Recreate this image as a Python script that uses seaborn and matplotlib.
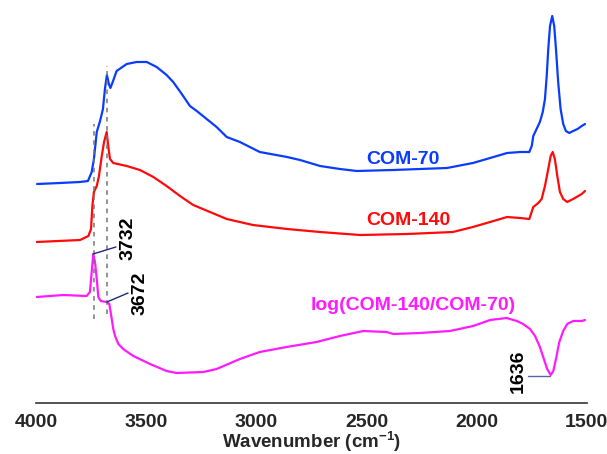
import numpy as np
import pandas as pd
import matplotlib
matplotlib.use("Agg")
import matplotlib.pyplot as plt
import seaborn as sns

# ---- data (wavenumber cm-1, offset absorbance a.u.) ----
wn_com70 = [3996, 3892, 3801, 3765, 3748, 3738, 3725, 3710, 3697, 3688, 3679, 3670,
            3663, 3651, 3635, 3589, 3544, 3498, 3453, 3408, 3378, 3339, 3302, 3271,
            3226, 3181, 3135, 3075, 2985, 2861, 2802, 2711, 2621, 2544, 2380, 2258,
            2135, 2017, 1939, 1862, 1803, 1767, 1761, 1750, 1743, 1728, 1713, 1700,
            1690, 1682, 1675, 1667, 1657, 1648, 1640, 1630, 1619, 1607, 1595, 1580,
            1562, 1542, 1523, 1508]
a_com70 = [2.19, 2.20, 2.21, 2.22, 2.31, 2.44, 2.71, 2.82, 2.94, 3.14, 3.28, 3.19,
           3.15, 3.22, 3.32, 3.39, 3.41, 3.41, 3.36, 3.28, 3.21, 3.09, 2.97, 2.92,
           2.84, 2.76, 2.66, 2.61, 2.51, 2.46, 2.43, 2.37, 2.34, 2.32, 2.33, 2.34,
           2.35, 2.40, 2.45, 2.50, 2.51, 2.51, 2.51, 2.57, 2.67, 2.74, 2.81, 2.91,
           3.04, 3.27, 3.54, 3.77, 3.87, 3.77, 3.54, 3.21, 2.94, 2.79, 2.72, 2.70,
           2.72, 2.74, 2.77, 2.79]

wn_com140 = [3998, 3801, 3763, 3751, 3745, 3738, 3725, 3715, 3703, 3692, 3680, 3673,
             3665, 3650, 3589, 3529, 3468, 3408, 3347, 3287, 3211, 3135, 3016, 2861,
             2712, 2530, 2317, 2108, 2017, 1939, 1862, 1803, 1761, 1743, 1720, 1705,
             1690, 1675, 1664, 1655, 1645, 1634, 1622, 1607, 1589, 1562, 1523, 1508]
a_com140 = [1.61, 1.63, 1.67, 1.74, 1.97, 2.11, 2.17, 2.27, 2.46, 2.61, 2.71, 2.57,
            2.44, 2.40, 2.37, 2.33, 2.26, 2.17, 2.07, 1.98, 1.91, 1.84, 1.78, 1.74,
            1.71, 1.68, 1.69, 1.71, 1.76, 1.81, 1.86, 1.85, 1.84, 1.96, 2.00, 2.04,
            2.17, 2.34, 2.47, 2.51, 2.44, 2.27, 2.11, 2.04, 2.01, 2.04, 2.09, 2.12]

wn_log = [3998, 3877, 3771, 3756, 3748, 3741, 3733, 3725, 3718, 3707, 3680, 3668,
          3657, 3650, 3642, 3627, 3605, 3559, 3483, 3408, 3362, 3241, 3181, 3075,
          2985, 2863, 2727, 2621, 2515, 2409, 2379, 2258, 2122, 2016, 1939, 1864,
          1818, 1789, 1758, 1735, 1713, 1695, 1680, 1664, 1652, 1640, 1625, 1607,
          1589, 1562, 1523, 1508]
a_log = [1.06, 1.08, 1.07, 1.11, 1.31, 1.49, 1.41, 1.24, 1.06, 1.02, 1.01, 0.99,
         0.84, 0.74, 0.67, 0.59, 0.54, 0.47, 0.39, 0.32, 0.30, 0.31, 0.34, 0.44,
         0.51, 0.56, 0.61, 0.67, 0.72, 0.71, 0.69, 0.70, 0.72, 0.77, 0.83, 0.85,
         0.82, 0.79, 0.74, 0.67, 0.56, 0.44, 0.34, 0.28, 0.32, 0.44, 0.61, 0.72,
         0.79, 0.82, 0.82, 0.83]

series_names = ["COM-70", "COM-140", "log(COM-140/COM-70)"]
series_colors = ["#0a3cff", "#ff0a0a", "#ff1aff"]
xticks = [4000, 3500, 3000, 2500, 2000, 1500]
peak_labels = ["3732", "3672", "1636"]

df = pd.concat([
    pd.DataFrame({"wn": wn_com70, "a": a_com70, "s": series_names[0]}),
    pd.DataFrame({"wn": wn_com140, "a": a_com140, "s": series_names[1]}),
    pd.DataFrame({"wn": wn_log, "a": a_log, "s": series_names[2]}),
])

sns.set_style("white")
plt.rcParams["font.family"] = ["Liberation Sans", "DejaVu Sans"]
plt.rcParams["font.weight"] = "bold"
plt.rcParams["mathtext.fontset"] = "custom"
plt.rcParams["mathtext.rm"] = "Liberation Sans:bold"
plt.rcParams["mathtext.bf"] = "Liberation Sans:bold"
plt.rcParams["mathtext.it"] = "Liberation Sans:bold"

fig = plt.figure(figsize=(6.07, 4.54), dpi=100)
ax = fig.add_axes([36.2 / 607, 51 / 454, (586.8 - 36.2) / 607, 400 / 454])

sns.lineplot(data=df, x="wn", y="a", hue="s", palette=dict(zip(series_names, series_colors)),
             sort=False, estimator=None, linewidth=1.6, legend=False, ax=ax)

ax.set_xlim(4000, 1500)
ax.set_ylim(0, 4.0)
ax.set_xticks(xticks)
ax.set_xticklabels([str(t) for t in xticks], fontsize=14, fontweight="bold")
ax.set_yticks([])
ax.set_ylabel("")
ax.set_xlabel("Wavenumber (cm$^{-1}$)", fontsize=13.5, fontweight="bold", labelpad=-1)
for s in ["top", "left", "right"]:
    ax.spines[s].set_visible(False)
ax.spines["bottom"].set_color("#333333")
ax.spines["bottom"].set_linewidth(1.2)
ax.tick_params(axis="x", direction="inout", length=6, width=1.2, color="#333333", pad=5)

# dashed reference lines
ax.plot([3737, 3737], [0.84, 2.79], ls=(0, (3, 3)), color="#777777", lw=1.1)
ax.plot([3677, 3677], [0.89, 3.37], ls=(0, (3, 3)), color="#777777", lw=1.1)

# series labels
ax.text(2335, 2.39, series_names[0], color=series_colors[0], fontsize=14, fontweight="bold",
        ha="center", va="baseline")
ax.text(2312, 1.78, series_names[1], color=series_colors[1], fontsize=14, fontweight="bold",
        ha="center", va="baseline")
ax.text(2287, 0.93, series_names[2], color=series_colors[2], fontsize=14, fontweight="bold",
        ha="center", va="baseline")

# peak annotations
lc = "#1f2a7a"
ax.plot([3742, 3638], [1.49, 1.56], color=lc, lw=1.0)
ax.text(3583, 1.65, peak_labels[0], rotation=90, fontsize=14, fontweight="bold",
        ha="center", va="center", color="black")
ax.plot([3679, 3583], [1.01, 1.10], color=lc, lw=1.0)
ax.text(3528, 1.10, peak_labels[1], rotation=90, fontsize=14, fontweight="bold",
        ha="center", va="center", color="black")
ax.plot([1767, 1667], [0.27, 0.27], color="#5a63a8", lw=1.0)
ax.text(1811, 0.32, peak_labels[2], rotation=90, fontsize=14, fontweight="bold",
        ha="center", va="center", color="black")

fig.savefig("out.png", dpi=100)
